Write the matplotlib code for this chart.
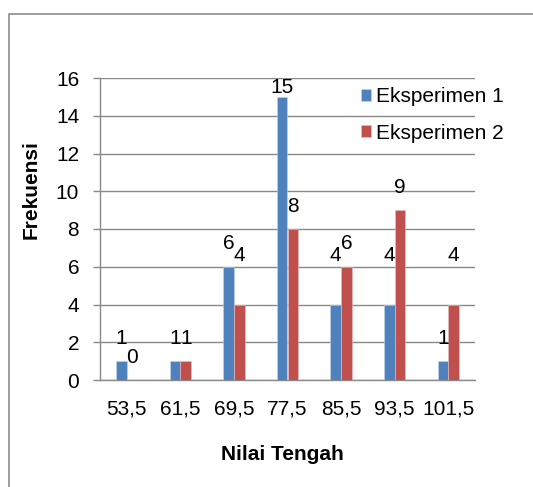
import numpy as np
import matplotlib
matplotlib.use('Agg')
import matplotlib.pyplot as plt
from matplotlib.patches import Rectangle

plt.rcParams['font.family'] = ['Liberation Sans', 'DejaVu Sans']

# data
categories = ['53,5', '61,5', '69,5', '77,5', '85,5', '93,5', '101,5']
eksperimen1 = [1, 1, 6, 15, 4, 4, 1]
eksperimen2 = [0, 1, 4, 8, 6, 9, 4]
series_names = ['Eksperimen 1', 'Eksperimen 2']

BLUE = '#4F81BD'
RED = '#C0504D'
GRID = '#898989'
W, H = 533, 487
FS = 15

fig = plt.figure(figsize=(W / 100.0, H / 100.0), dpi=100)
ax = fig.add_axes([100.0 / W, 1 - 380.0 / H, (475.0 - 100.0) / W, (380.0 - 78.0) / H])

x = np.arange(len(categories))
bw = 0.2
b1 = ax.bar(x - bw / 2, eksperimen1, bw, color=BLUE, label=series_names[0],
            edgecolor='#c6d6ea', linewidth=0.4, zorder=3)
b2 = ax.bar(x + bw / 2, eksperimen2, bw, color=RED, label=series_names[1],
            edgecolor='#e6c0bf', linewidth=0.4, zorder=3)

# value labels, offsets in points above the bar top (labels were moved around in original)
def label_offset(v):
    if v == 15:
        return 6.5
    if v == 4:
        return 35.0
    return 16.5

for bars, vals in ((b1, eksperimen1), (b2, eksperimen2)):
    for rect, v in zip(bars, vals):
        ax.annotate(str(v), (rect.get_x() + rect.get_width() / 2, v),
                    xytext=(0, label_offset(v)), textcoords='offset points',
                    ha='center', va='center', fontsize=FS, zorder=4,
                    annotation_clip=False)

ax.set_xlim(-0.5, len(categories) - 0.5)
ax.set_ylim(0, 16)
ax.set_yticks(np.arange(0, 17, 2))
ax.set_xticks(x)
ax.set_xticklabels(categories)
ax.tick_params(axis='x', length=0, pad=14, labelsize=FS)
ax.tick_params(axis='y', length=5, width=1.0, color=GRID, pad=10, labelsize=FS)

ax.yaxis.grid(True, color=GRID, linewidth=1.0, zorder=0)
ax.set_axisbelow(True)
for s in ('top', 'right'):
    ax.spines[s].set_visible(False)
ax.spines['left'].set_color(GRID)
ax.spines['left'].set_linewidth(1.0)
ax.spines['bottom'].set_color(GRID)
ax.spines['bottom'].set_linewidth(1.0)

fig.text(31.0 / W, 1 - 190.0 / H, 'Frekuensi', rotation=90, ha='center', va='center',
         fontsize=FS, fontweight='bold')
fig.text(282.0 / W, 1 - 455.0 / H, 'Nilai Tengah', ha='center', va='center',
         fontsize=FS, fontweight='bold')

ax.legend(loc='upper left', bbox_to_anchor=(361.0 / W, 1 - 87.0 / H),
          bbox_transform=fig.transFigure, frameon=False, fontsize=FS,
          handlelength=0.5, handleheight=0.5, handletextpad=0.2,
          labelspacing=0.85, borderaxespad=0, borderpad=0)

# outer chart frame (cut off at right and bottom)
fig.patches.append(Rectangle((9.0 / W, -0.2), 1.5, 1 - 14.0 / H + 0.2,
                             transform=fig.transFigure, fill=False,
                             edgecolor='#8c8c8c', linewidth=1.2))

fig.savefig('out.png', dpi=100)
